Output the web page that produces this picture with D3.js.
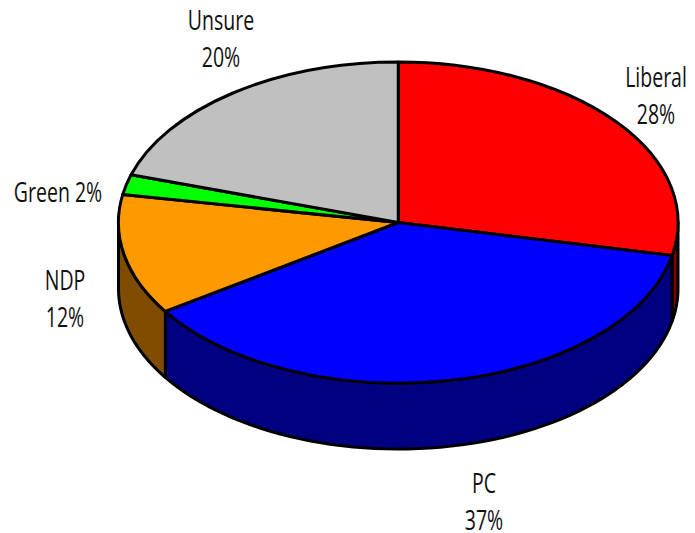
<!DOCTYPE html>
<html>
<head>
<meta charset="utf-8">
<script src="https://cdn.jsdelivr.net/npm/d3@7"></script>
<style>
html,body{margin:0;padding:0;background:#fff;overflow:hidden}
svg{display:block}
text{font-family:"Open Sans",sans-serif;font-size:27.5px;fill:#111}
</style>
</head>
<body>
<svg id="c" width="695" height="533"></svg>
<script>
const categories = ["Liberal","PC","NDP","Green","Unsure"];
const values = [28,37,12,2,20];
const colors = ["#ff0000","#0000ff","#ff9900","#00ff00","#c0c0c0"];
const sideColors = ["#800000","#000080","#804d00","#008000","#606060"];

const svg = d3.select("#c");
const x = d3.scaleLinear().domain([-1,1]).range([118.5,678]);
const y = d3.scaleLinear().domain([-1,1]).range([62,383]);
const depth = 66;
const rx = (x(1)-x(-1))/2, ry = (y(1)-y(-1))/2;

const slices = d3.pie().value(d=>d).sort(null)(values);
const px = a => x(Math.sin(a));
const py = a => y(-Math.cos(a));

// side walls: only the part of each slice on the front half of the ellipse
const line = d3.line();
slices.forEach((s,i)=>{
  const a0 = Math.max(s.startAngle, Math.PI/2), a1 = Math.min(s.endAngle, 3*Math.PI/2);
  if (a1 <= a0) return;
  const as = d3.range(0,61).map(k=>a0+(a1-a0)*k/60);
  const pts = as.map(a=>[px(a),py(a)]).concat(as.slice().reverse().map(a=>[px(a),py(a)+depth]));
  svg.append("path").attr("d",line(pts)+"Z")
    .attr("fill",sideColors[i]).attr("stroke","#000").attr("stroke-width",3).attr("stroke-linejoin","round");
});

// top face
const arc = d3.arc().innerRadius(0).outerRadius(1);
const topFace = svg.append("g").attr("transform",`translate(${x(0)},${y(0)}) scale(${rx},${ry})`);
topFace.selectAll("path").data(slices).join("path")
  .attr("d",arc)
  .attr("fill",(d,i)=>colors[i])
  .attr("stroke","#000").attr("stroke-width",3).attr("stroke-linejoin","round")
  .attr("vector-effect","non-scaling-stroke");

// labels
const labelLines = [
  ["Liberal","28%"],["PC","37%"],["NDP","12%"],["Green 2%"],["Unsure","20%"]
];
const labelAnchors = [[656,87],[484,493],[65,290],[58,202],[221,30]];
const lineGap = 37.5;
labelLines.forEach((ls,i)=>{
  const g = svg.append("g").attr("transform",`translate(${labelAnchors[i][0]},${labelAnchors[i][1]}) scale(0.71,1)`);
  ls.forEach((t,j)=>g.append("text").attr("y",j*lineGap).attr("text-anchor","middle").text(t));
});
</script>
</body>
</html>
